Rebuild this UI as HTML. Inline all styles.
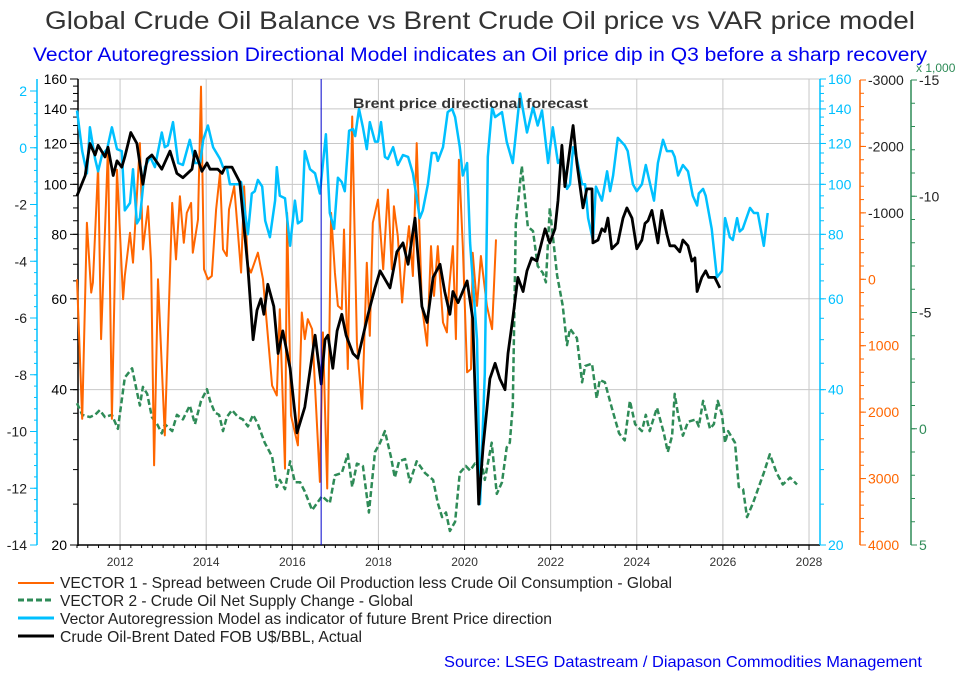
<!DOCTYPE html>
<html><head><meta charset="utf-8"><style>
html,body{margin:0;padding:0;background:#fff;}
svg{display:block;font-family:"Liberation Sans",Arial,sans-serif;}
</style></head><body>
<svg id="chart" width="960" height="675" viewBox="0 0 960 675">
<rect x="0" y="0" width="960" height="675" fill="#fff"/>
<text x="480" y="29" text-anchor="middle" font-size="25" fill="#333" textLength="870" lengthAdjust="spacingAndGlyphs">Global Crude Oil Balance vs Brent Crude Oil price vs VAR price model</text>
<text x="480" y="61" text-anchor="middle" font-size="19" fill="#0000ee" textLength="894" lengthAdjust="spacingAndGlyphs">Vector Autoregression Directional Model indicates an Oil price dip in Q3 before a sharp recovery</text>
<g id="grid"></g>
<g id="axes"></g>
<g id="series"></g>
<text x="353" y="108" font-size="14" font-weight="bold" fill="#333" textLength="235" lengthAdjust="spacingAndGlyphs">Brent price directional forecast</text>
<text x="916" y="72" font-size="12" fill="#2e8b57">x 1,000</text>
<g>
<line x1="18" y1="583" x2="54" y2="583" stroke="#ff6600" stroke-width="2"/>
<text x="60" y="588" font-size="16" fill="#222" textLength="612" lengthAdjust="spacingAndGlyphs">VECTOR 1 - Spread between Crude Oil Production less Crude Oil Consumption - Global</text>
<line x1="18" y1="600" x2="54" y2="600" stroke="#2e8b57" stroke-width="3" stroke-dasharray="6,3"/>
<text x="60" y="606" font-size="16" fill="#222" textLength="353" lengthAdjust="spacingAndGlyphs">VECTOR 2 - Crude Oil Net Supply Change - Global</text>
<line x1="18" y1="618" x2="54" y2="618" stroke="#00c0ff" stroke-width="3"/>
<text x="60" y="624" font-size="16" fill="#222" textLength="492" lengthAdjust="spacingAndGlyphs">Vector Autoregression Model as indicator of future Brent Price direction</text>
<line x1="18" y1="636" x2="54" y2="636" stroke="#000" stroke-width="3"/>
<text x="60" y="642" font-size="16" fill="#222" textLength="302" lengthAdjust="spacingAndGlyphs">Crude Oil-Brent Dated FOB U$/BBL, Actual</text>
</g>
<text x="444" y="667" font-size="16" fill="#0000ee" textLength="478" lengthAdjust="spacingAndGlyphs">Source: LSEG Datastream / Diapason Commodities Management</text>
</svg>
<script>
// ---- data ----
const brentYears=[2011.00,2011.19,2011.30,2011.42,2011.49,2011.65,2011.72,2011.84,2011.93,2012.04,2012.11,2012.25,2012.39,2012.53,2012.63,2012.74,2012.97,2013.16,2013.32,2013.46,2013.67,2013.74,2013.90,2014.02,2014.09,2014.27,2014.37,2014.44,2014.60,2014.78,2014.97,2015.09,2015.18,2015.27,2015.34,2015.43,2015.57,2015.67,2015.78,2015.95,2016.11,2016.29,2016.53,2016.67,2016.76,2016.83,2016.94,2017.04,2017.15,2017.25,2017.41,2017.52,2017.76,2017.92,2018.04,2018.27,2018.43,2018.57,2018.69,2018.85,2019.01,2019.13,2019.27,2019.43,2019.54,2019.66,2019.73,2019.85,2020.06,2020.19,2020.33,2020.43,2020.59,2020.71,2020.82,2020.94,2021.01,2021.12,2021.24,2021.36,2021.45,2021.56,2021.68,2021.87,2021.98,2022.10,2022.17,2022.26,2022.33,2022.52,2022.61,2022.75,2022.84,2022.96,2022.98,2023.10,2023.19,2023.26,2023.33,2023.42,2023.56,2023.68,2023.77,2023.89,2024.00,2024.12,2024.19,2024.26,2024.35,2024.49,2024.58,2024.70,2024.77,2024.88,2025.00,2025.07,2025.19,2025.28,2025.35,2025.40,2025.51,2025.60,2025.67,2025.81,2025.93];
const brentValues=[95,104,120,114,119,113,118,104,111,108,113,126,120,100,112,114,107,116,105,103,107,116,106,110,107,107,105,108,108,101,69,50,57,60,56,64,58,47,52,44,33,37,51,41,50,51,44,52,56,51,47,46,56,63,68,63,74,77,70,86,58,54,66,70,62,56,62,59,65,55,24,31,42,45,42,40,47,55,66,62,68,72,71,82,77,82,93,119,99,130,110,90,98,98,77,78,82,81,86,75,77,86,90,86,75,78,84,85,89,77,89,80,76,76,74,78,76,71,72,62,66,68,66,66,63];

const varYears=[2011.00,2011.12,2011.23,2011.30,2011.42,2011.49,2011.58,2011.70,2011.81,2011.93,2012.04,2012.11,2012.23,2012.30,2012.39,2012.46,2012.58,2012.70,2012.81,2012.97,2013.04,2013.11,2013.23,2013.35,2013.46,2013.62,2013.74,2013.86,2013.93,2014.04,2014.16,2014.32,2014.39,2014.48,2014.55,2014.74,2014.81,2014.97,2015.06,2015.13,2015.20,2015.30,2015.37,2015.48,2015.60,2015.64,2015.71,2015.83,2015.95,2016.06,2016.13,2016.22,2016.29,2016.41,2016.53,2016.64,2016.78,2016.87,2016.97,2017.06,2017.15,2017.22,2017.32,2017.41,2017.46,2017.55,2017.64,2017.73,2017.80,2017.92,2017.99,2018.06,2018.15,2018.22,2018.34,2018.45,2018.57,2018.69,2018.80,2018.96,2019.03,2019.15,2019.24,2019.34,2019.38,2019.50,2019.61,2019.71,2019.78,2019.89,2019.96,2020.06,2020.13,2020.29,2020.36,2020.47,2020.54,2020.64,2020.71,2020.87,2020.98,2021.12,2021.29,2021.45,2021.59,2021.70,2021.80,2021.94,2022.05,2022.17,2022.26,2022.38,2022.45,2022.52,2022.61,2022.73,2022.80,2022.87,2022.98,2023.05,2023.19,2023.31,2023.38,2023.45,2023.56,2023.72,2023.79,2023.91,2024.00,2024.12,2024.21,2024.30,2024.40,2024.49,2024.61,2024.70,2024.82,2024.88,2024.96,2025.07,2025.19,2025.30,2025.40,2025.44,2025.54,2025.60,2025.74,2025.86,2025.98,2026.05,2026.16,2026.23,2026.33,2026.39,2026.46,2026.63,2026.72,2026.81,2026.95,2027.04];
const varValues=[139,116,105,129,112,106,114,117,129,117,116,89,92,107,84,86,108,113,108,126,118,119,132,110,109,122,110,110,122,130,118,112,108,108,100,100,101,80,96,97,102,99,85,79,93,108,95,94,76,93,84,85,116,107,105,96,125,88,82,103,101,97,127,128,124,140,129,117,132,121,121,132,113,112,118,109,114,113,105,86,89,100,115,115,111,118,138,140,135,118,104,110,77,50,24,43,113,141,135,138,121,110,150,126,141,130,139,110,129,110,113,98,100,118,112,100,100,86,78,99,93,106,97,104,123,119,116,100,97,100,109,101,93,110,122,116,116,113,104,109,106,95,91,96,98,95,82,66,68,86,79,78,86,81,82,90,88,88,76,88];

const v1Years=[2011.00,2011.12,2011.23,2011.33,2011.37,2011.49,2011.56,2011.72,2011.81,2011.93,2012.07,2012.11,2012.23,2012.30,2012.46,2012.53,2012.65,2012.72,2012.79,2012.88,2013.04,2013.21,2013.30,2013.39,2013.48,2013.55,2013.65,2013.69,2013.81,2013.88,2013.95,2014.04,2014.13,2014.23,2014.32,2014.39,2014.48,2014.53,2014.65,2014.81,2014.88,2014.97,2015.04,2015.20,2015.32,2015.53,2015.64,2015.71,2015.83,2015.88,2015.97,2016.13,2016.22,2016.29,2016.36,2016.46,2016.64,2016.71,2016.81,2016.90,2016.99,2017.06,2017.15,2017.20,2017.29,2017.39,2017.50,2017.62,2017.73,2017.80,2017.87,2017.99,2018.11,2018.22,2018.31,2018.36,2018.45,2018.55,2018.64,2018.71,2018.80,2018.89,2019.01,2019.13,2019.22,2019.29,2019.38,2019.50,2019.59,2019.64,2019.73,2019.80,2019.87,2019.96,2020.06,2020.15,2020.19,2020.29,2020.38,2020.52,2020.64,2020.73];
const v1Values=[0,2100,-850,200,50,-1700,900,-2000,2100,-1650,300,-50,-700,-250,-2050,-450,-1100,-250,2800,0,2350,-1150,-300,-1250,-550,-1000,-1150,-400,-900,-2900,-150,0,-50,-1050,-1600,-450,-350,-1050,-1400,-100,-1400,-200,-100,-400,0,1600,1750,450,2850,-1000,2050,2500,500,900,600,750,3050,800,3150,-1000,-100,400,450,-750,1350,-2450,950,1950,-250,850,-850,-1200,-150,-1350,-150,-1100,-650,350,-400,-800,-50,-2050,400,1000,-500,250,-500,650,800,150,-500,900,-1800,-500,1400,1350,-400,400,-350,400,750,-600];

const v2Years=[2011.00,2011.12,2011.30,2011.42,2011.53,2011.65,2011.81,2011.95,2012.11,2012.28,2012.39,2012.46,2012.53,2012.63,2012.74,2012.86,2012.97,2013.04,2013.21,2013.32,2013.46,2013.62,2013.74,2013.88,2014.02,2014.09,2014.20,2014.30,2014.39,2014.48,2014.60,2014.74,2014.85,2014.97,2015.09,2015.20,2015.36,2015.53,2015.64,2015.71,2015.83,2015.95,2016.06,2016.18,2016.29,2016.46,2016.69,2016.87,2016.99,2017.15,2017.29,2017.39,2017.50,2017.64,2017.78,2017.92,2018.04,2018.15,2018.29,2018.38,2018.48,2018.62,2018.73,2018.89,2019.08,2019.27,2019.38,2019.48,2019.57,2019.66,2019.78,2019.89,2020.03,2020.13,2020.24,2020.31,2020.38,2020.47,2020.63,2020.75,2020.87,2020.98,2021.05,2021.12,2021.19,2021.33,2021.47,2021.59,2021.70,2021.82,2021.89,2021.98,2022.15,2022.28,2022.38,2022.45,2022.61,2022.73,2022.80,2022.96,2023.07,2023.14,2023.26,2023.42,2023.59,2023.72,2023.84,2023.96,2024.12,2024.21,2024.30,2024.40,2024.47,2024.63,2024.72,2024.82,2024.88,2024.96,2025.07,2025.19,2025.37,2025.44,2025.54,2025.70,2025.79,2025.88,2025.98,2026.05,2026.12,2026.28,2026.37,2026.47,2026.56,2026.70,2026.95,2027.09,2027.25,2027.39,2027.56,2027.72];
const v2Values=[-1.1,-0.6,-0.5,-0.6,-0.8,-0.5,-0.6,0.0,-2.2,-2.6,-1.6,-1.0,-1.8,-1.5,-0.5,-0.2,0.2,-0.2,0.1,-0.6,-0.4,-1.0,-0.2,-1.2,-1.7,-1.2,-0.7,-0.6,0.1,-0.5,-0.8,-0.5,-0.4,-0.1,-0.6,-0.2,0.6,1.2,2.5,2.2,2.6,1.4,2.3,2.3,2.7,3.5,2.9,3.2,2.0,1.9,1.1,2.5,1.5,1.6,3.6,1.0,0.6,0.1,1.2,2.1,1.4,1.3,2.3,1.4,1.9,2.2,3.2,3.8,3.6,4.4,4.0,1.9,1.6,1.8,1.5,1.6,1.3,2.2,0.6,2.8,2.3,0.8,0.6,-1.0,-8.8,-11.3,-8.7,-8.5,-7.0,-6.7,-6.3,-9.5,-6.6,-5.3,-3.6,-4.3,-3.9,-2.0,-2.7,-2.8,-1.3,-2.1,-2.0,-0.9,0.2,0.5,-1.2,-0.2,0.1,-0.6,0.1,-0.5,-0.9,0.2,1.0,0.3,-1.5,-0.6,0.3,-0.3,-0.4,-0.1,-1.2,0.0,-0.2,-1.2,-0.6,0.6,0.1,0.6,2.5,2.6,3.8,3.2,1.9,1.1,1.9,2.4,2.1,2.4,1.9];

const forecastStartYear=2016.67;
const xTickYears=[2012,2014,2016,2018,2020,2022,2024,2026,2028];
const brentTicks=[20,40,60,80,100,120,140,160];
const leftCyanTicks=[2,0,-2,-4,-6,-8,-10,-12,-14];
const orangeTicks=[-3000,-2000,-1000,0,1000,2000,3000,4000];
const greenTicks=[-15,-10,-5,0,5];

// ---- scales ----
const X0=77, PXY=43.06, Y0=545, Y1=79;
const xs=y=>X0+(y-2011)*PXY;
const yLog=v=>Y0-(Math.log(v/20)/Math.log(8))*(Y0-Y1);
const yLeft=v=>Y0-(v+14)/16*(Y0-91);
const yOrange=v=>80+(v+3000)/7000*465;
const yGreen=v=>80+(v+15)/20*465;

const NS="http://www.w3.org/2000/svg";
function mk(tag,attrs,parent,txt){const e=document.createElementNS(NS,tag);for(const k in attrs)e.setAttribute(k,attrs[k]);if(txt!==undefined)e.textContent=txt;parent.appendChild(e);return e;}
const grid=document.getElementById('grid'),axes=document.getElementById('axes'),series=document.getElementById('series');

brentTicks.forEach(v=>{if(v===20)return;const l=mk('line',{x1:78,x2:820,y1:yLog(v),y2:yLog(v),stroke:'#c8c8c8','stroke-width':1},grid);

});
xTickYears.forEach(y=>{const l=mk('line',{x1:xs(y),x2:xs(y),y1:79,y2:545,stroke:'#c8c8c8','stroke-width':1},grid);

});

mk('line',{x1:78,x2:78,y1:79,y2:546,stroke:'#000','stroke-width':1.5},axes);
mk('line',{x1:78,x2:820,y1:545,y2:545,stroke:'#000','stroke-width':1.5},axes);
for(let y=2011;y<=2028.01;y+=0.25){const big=Math.abs(y-Math.round(y))<0.01&&Math.round(y)%2===0;mk('line',{x1:xs(y),x2:xs(y),y1:545,y2:big?550:548,stroke:'#000'},axes);}
xTickYears.forEach(y=>{const t=mk('text',{x:xs(y),y:566,'text-anchor':'middle','font-size':12,fill:'#333'},axes,String(y));

});
for(let v=20;v<=160;v+=(v<40?4:5)){mk('line',{x1:73,x2:78,y1:yLog(v),y2:yLog(v),stroke:'#000'},axes);}
brentTicks.forEach(v=>{mk('line',{x1:70,x2:78,y1:yLog(v),y2:yLog(v),stroke:'#000'},axes);
const t=mk('text',{x:67,y:yLog(v)+5,'text-anchor':'end','font-size':14,fill:'#000'},axes,String(v));

});
mk('line',{x1:37,x2:37,y1:79,y2:545,stroke:'#00c0ff','stroke-width':1.5},axes);
for(let v=-14;v<=2.01;v+=0.4){mk('line',{x1:34,x2:37,y1:yLeft(v),y2:yLeft(v),stroke:'#00c0ff'},axes);}
leftCyanTicks.forEach(v=>{mk('line',{x1:30,x2:37,y1:yLeft(v),y2:yLeft(v),stroke:'#00c0ff'},axes);
const t=mk('text',{x:27,y:yLeft(v)+5,'text-anchor':'end','font-size':14,fill:v>=0?'#00c0ff':'#222'},axes,String(v));

});
mk('line',{x1:820,x2:820,y1:79,y2:545,stroke:'#00c0ff','stroke-width':1.5},axes);
for(let v=20;v<=160;v+=(v<40?4:5)){mk('line',{x1:820,x2:824,y1:yLog(v),y2:yLog(v),stroke:'#00c0ff'},axes);}
brentTicks.forEach(v=>{mk('line',{x1:820,x2:826,y1:yLog(v),y2:yLog(v),stroke:'#00c0ff'},axes);
const t=mk('text',{x:828,y:yLog(v)+5,'font-size':14,fill:'#00c0ff'},axes,String(v));

});
mk('line',{x1:860,x2:860,y1:80,y2:545,stroke:'#ff6600','stroke-width':1.5},axes);
for(let v=-3000;v<=4000;v+=200){mk('line',{x1:860,x2:864,y1:yOrange(v),y2:yOrange(v),stroke:'#ff6600'},axes);}
orangeTicks.forEach(v=>{mk('line',{x1:860,x2:866,y1:yOrange(v),y2:yOrange(v),stroke:'#ff6600'},axes);
const t=mk('text',{x:868,y:yOrange(v)+5,'font-size':14,fill:v<0?'#222':'#ff6600'},axes,String(v));

});
mk('line',{x1:911,x2:911,y1:80,y2:545,stroke:'#2e8b57','stroke-width':1.5},axes);
for(let v=-15;v<=5;v+=1){mk('line',{x1:911,x2:915,y1:yGreen(v),y2:yGreen(v),stroke:'#2e8b57'},axes);}
greenTicks.forEach(v=>{mk('line',{x1:911,x2:917,y1:yGreen(v),y2:yGreen(v),stroke:'#2e8b57'},axes);
const t=mk('text',{x:919,y:yGreen(v)+5,'font-size':14,fill:v<0?'#222':'#2e8b57'},axes,String(v));

});

function line(years,vals,fy,style,name){
  const d=years.map((y,i)=>(i?'L':'M')+xs(y).toFixed(1)+','+fy(vals[i]).toFixed(1)).join('');
  const p=mk('path',Object.assign({d:d,fill:'none','stroke-linejoin':'round'},style),series);
  
  
}
line(v2Years,v2Values,yGreen,{stroke:'#2e8b57','stroke-width':2.5,'stroke-dasharray':'6,3'},'vector2-line');
line(v1Years,v1Values,yOrange,{stroke:'#ff6600','stroke-width':2},'vector1-line');
line(varYears,varValues,yLog,{stroke:'#00c0ff','stroke-width':2.5},'var-model-line');
line(brentYears,brentValues,yLog,{stroke:'#000','stroke-width':2.8},'brent-actual-line');
const fl=mk('line',{x1:xs(forecastStartYear),x2:xs(forecastStartYear),y1:79,y2:545,stroke:'#0000cc','stroke-width':1},series);


</script>
</body></html>
